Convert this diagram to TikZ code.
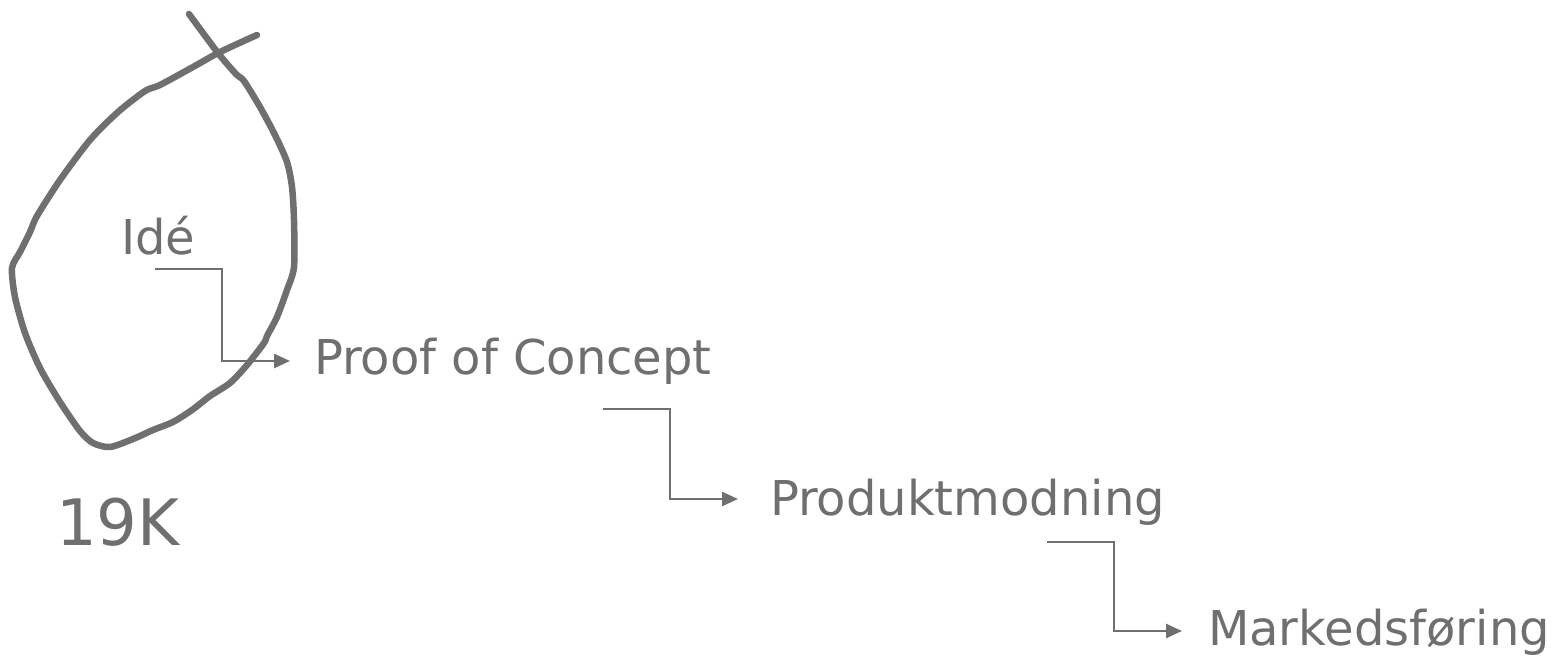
\documentclass[tikz,border=0pt]{standalone}
\usepackage{fontspec}
\setmainfont{DejaVu Sans}
\usetikzlibrary{arrows.meta}
\definecolor{ink}{HTML}{6F6F6F}
\begin{document}
\begin{tikzpicture}[x=1pt,y=-1pt,
  lbl/.style={anchor=base west,inner sep=0pt,outer sep=0pt,text=ink,font=\fontsize{48}{56}\selectfont},
  big/.style={anchor=base west,inner sep=0pt,outer sep=0pt,text=ink,font=\fontsize{64}{72}\selectfont},
  flow/.style={draw=ink,line width=2.6pt,-{Triangle[length=16pt,width=14pt]}},
  blob/.style={draw=ink,line width=6.5pt,line cap=round,line join=round}]
\useasboundingbox (0,0) rectangle (1553,656);
% sketch outline
\draw[blob] plot[smooth,tension=0.45] coordinates {
(189,14) (218,53) (236,74) (244,81) (260,107) (275,135) (287,162) (292,187) (294,220) (294,267)
(287,290) (277,317) (267,336) (264,343) (247,365) (230,383) (210,396) (192,410) (173,422)
(153,430) (133,439) (110,447) (93,443) (80,431) (60,402) (40,368) (25,333) (15,297) (12,268)
(20,252) (30,232) (37,216) (60,180) (90,140) (118,112) (145,91) (160,85) (193,67) (220,52) (257,35)};
% texts
\node[lbl] (idea) at (121,254) {Idé};
\node[lbl] (poc) at (314,374) {Proof of Concept};
\node[lbl] (prod) at (770,515) {Produktmodning};
\node[lbl] (mark) at (1208,645) {Markedsføring};
\node[big] (k19) at (56,545) {19K};
% connectors
\coordinate (s1) at (155,269);
\coordinate (t1) at (290,361);
\coordinate (s2) at (603,409);
\coordinate (t2) at (738,499);
\coordinate (s3) at (1047,542);
\coordinate (t3) at (1182,631);
\draw[flow] (s1) -- (222,269) |- (t1);
\draw[flow] (s2) -- (670,409) |- (t2);
\draw[flow] (s3) -- (1114,542) |- (t3);
\end{tikzpicture}
\end{document}
